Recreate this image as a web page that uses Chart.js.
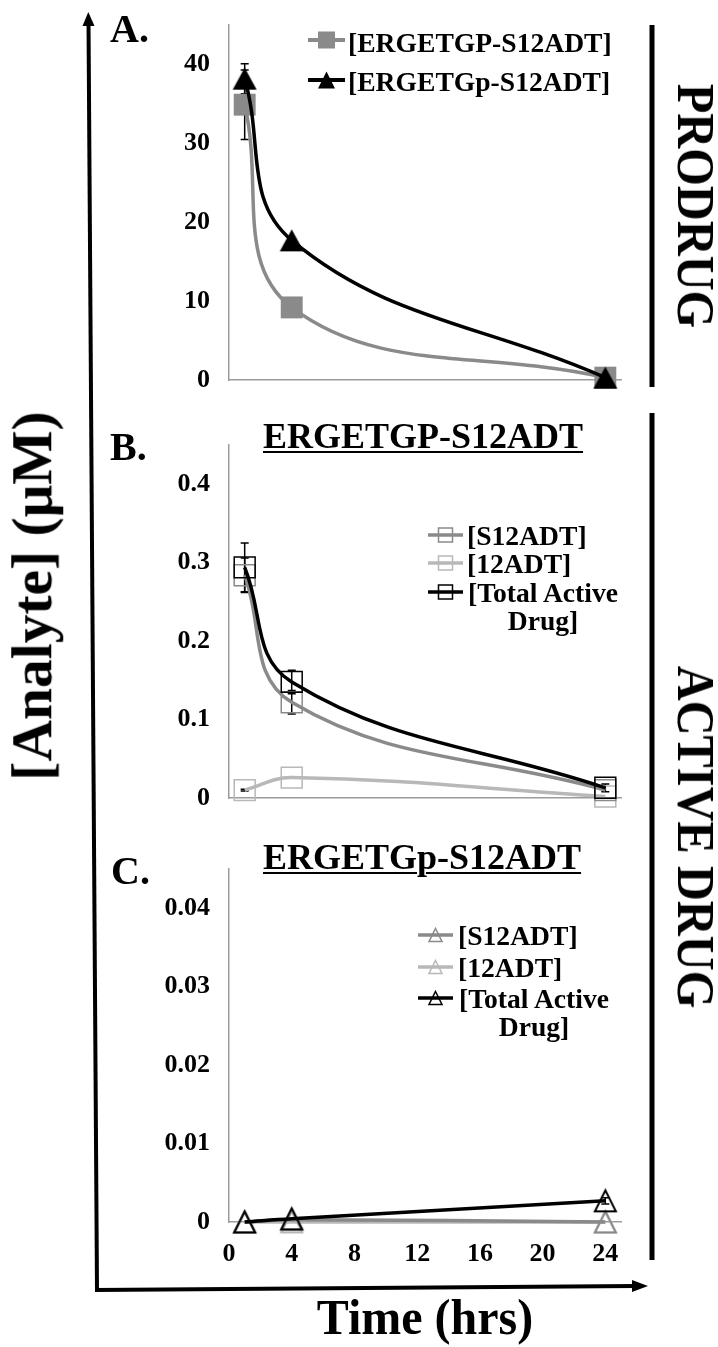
<!DOCTYPE html>
<html><head><meta charset="utf-8">
<script src="https://cdn.jsdelivr.net/npm/chart.js@4.4.1/dist/chart.umd.min.js"></script>
<style>
html,body{margin:0;padding:0;background:#fff;}
#wrap{position:relative;width:718px;height:1347px;overflow:hidden;font-family:'Liberation Serif','Times New Roman',serif;font-weight:bold;color:#000;}
canvas.c{position:absolute;left:0;}
.t{position:absolute;white-space:nowrap;line-height:1;}
.rot{position:absolute;white-space:nowrap;line-height:1;}
.lg{position:absolute;white-space:nowrap;font-size:27.6px;line-height:28px;}
svg.mk{position:absolute;overflow:visible;}
</style></head>
<body><div id="wrap">
<canvas id="bg" width="718" height="1347" style="position:absolute;left:0;top:0"></canvas>
<canvas id="cA" class="c" width="718" height="400" style="top:0"></canvas>
<canvas id="cB" class="c" width="718" height="420" style="top:400px"></canvas>
<canvas id="cC" class="c" width="718" height="470" style="top:820px"></canvas>

<div class="t" style="left:110px;top:9px;font-size:40px;">A.</div>
<div class="t" style="left:110px;top:427px;font-size:40px;">B.</div>
<div class="t" style="left:111px;top:851px;font-size:40px;">C.</div>

<div class="t" id="titleB" style="left:263px;top:418px;font-size:36px;text-decoration:underline;text-decoration-thickness:2px;text-underline-offset:3px;"></div>
<div class="t" id="titleC" style="left:263px;top:839px;font-size:36px;text-decoration:underline;text-decoration-thickness:2px;text-underline-offset:3px;"></div>

<div class="rot" id="yLabel" style="left:32px;top:596px;font-size:57.5px;transform:translate(-50%,-50%) rotate(-90deg);"></div>
<div class="rot" id="xLabel" style="left:425px;top:1317px;font-size:50px;transform:translate(-50%,-50%) scaleX(0.96);"></div>
<div class="rot" id="sideA" style="left:695px;top:206px;font-size:52px;transform:translate(-50%,-50%) rotate(90deg) scaleX(0.93);"></div>
<div class="rot" id="sideB" style="left:695px;top:837px;font-size:52px;transform:translate(-50%,-50%) rotate(90deg) scaleX(0.93);"></div>
</div>
<script>
// ---------- data ----------
const timeHrs = [1, 4, 24];
const xTickValues = [0, 4, 8, 12, 16, 20, 24];
const xTickLabels = ['0', '4', '8', '12', '16', '20', '24'];
const xMax = 25;

const yTicksA = [0, 10, 20, 30, 40];
const yLabelsA = ['0', '10', '20', '30', '40'];
const yMaxA = 45;
const yTicksB = [0, 0.1, 0.2, 0.3, 0.4];
const yLabelsB = ['0', '0.1', '0.2', '0.3', '0.4'];
const yMaxB = 0.45;
const yTicksC = [0, 0.01, 0.02, 0.03, 0.04];
const yLabelsC = ['0', '0.01', '0.02', '0.03', '0.04'];
const yMaxC = 0.045;

const prodrugNames = ['[ERGETGP-S12ADT]', '[ERGETGp-S12ADT]'];
const activeNames = ['[S12ADT]', '[12ADT]', '[Total Active Drug]'];
const panelTitles = ['ERGETGP-S12ADT', 'ERGETGp-S12ADT'];
const axisTitleY = '[Analyte] (\u03bcM)';
const axisTitleX = 'Time (hrs)';
const sideTitles = ['PRODRUG', 'ACTIVE DRUG'];

// Panel A
const prodrugGP = [34.9, 9.2, 0.3];
const prodrugGPErr = [4.4, 0, 0];
const prodrugGp = [38.2, 17.7, 0.3];
const prodrugGpErr = [1.9, 0, 0];
// Panel B (ERGETGP-S12ADT)
const bS12ADT = [0.284, 0.122, 0.010];
const bS12ADTErr = [0.022, 0.015, 0];
const b12ADT = [0.010, 0.026, 0.002];
const b12ADTErr = [0.001, 0, 0];
const bTotal = [0.294, 0.148, 0.013];
const bTotalErr = [0.031, 0.015, 0.005];
// Panel C (ERGETGp-S12ADT)
const cS12ADT = [0, 0.0003, 0];
const c12ADT = [0, 0, 0];
const cTotal = [0, 0.0004, 0.0027];
const cTotalErr = [0, 0, 0.0004];

// ---------- styles ----------
const GRAY = '#8a8a8a', LIGHT = '#b8b8b8', BLACK = '#000';
Chart.defaults.font.family = "'Liberation Serif','Times New Roman',serif";
Chart.defaults.font.weight = 'bold';
Chart.defaults.font.size = 26;
Chart.defaults.color = '#000';

function triCanvas(w, h, fill, stroke, lw) {
  const m = Math.ceil(lw) + 1;
  const c = document.createElement('canvas');
  c.width = w + 2 * m; c.height = h + 2 * m;
  const ctx = c.getContext('2d');
  ctx.beginPath();
  ctx.moveTo(m + w / 2, m);
  ctx.lineTo(m + w, m + h);
  ctx.lineTo(m, m + h);
  ctx.closePath();
  if (fill) { ctx.fillStyle = fill; ctx.fill(); }
  if (stroke) { ctx.strokeStyle = stroke; ctx.lineWidth = lw; ctx.lineJoin = 'miter'; ctx.stroke(); }
  return c;
}

const errPlugin = {
  id: 'errbars',
  beforeDatasetsDraw(chart) {
    const ctx = chart.ctx, xs = chart.scales.x, ys = chart.scales.y;
    ctx.save();
    chart.data.datasets.forEach(ds => {
      if (!ds.err) return;
      ds.data.forEach((p, i) => {
        const e = ds.err[i];
        if (!e) return;
        const x = xs.getPixelForValue(p.x);
        const y1 = ys.getPixelForValue(p.y + e), y2 = ys.getPixelForValue(p.y - e);
        ctx.strokeStyle = ds.errColor || '#000';
        ctx.lineWidth = 1.5;
        ctx.beginPath();
        ctx.moveTo(x, y1); ctx.lineTo(x, y2);
        ctx.moveTo(x - 4, y1); ctx.lineTo(x + 4, y1);
        ctx.moveTo(x - 4, y2); ctx.lineTo(x + 4, y2);
        ctx.stroke();
      });
    });
    ctx.restore();
  }
};

function pts(arr) { return timeHrs.map((t, i) => ({ x: t, y: arr[i] })); }

function options(yMax, yTicks, yLabels, showX, xH, topPad) {
  return {
    responsive: false, animation: false, events: [],
    layout: { padding: { top: topPad, right: 97, left: 0, bottom: 0 } },
    plugins: { legend: { display: false }, tooltip: { enabled: false }, title: { display: false } },
    scales: {
      x: {
        type: 'linear', min: 0, max: xMax,
        grid: { display: false, drawTicks: false },
        border: { display: true, color: '#9c9c9c', width: 1.5 },
        afterBuildTicks: s => { s.ticks = xTickValues.map(v => ({ value: v })); },
        ticks: { display: showX, padding: 17, autoSkip: false, maxRotation: 0, callback: (v, i) => xTickLabels[i] },
        afterFit: s => { s.height = xH; s.paddingLeft = 0; s.paddingRight = 0; s.paddingTop = 0; s.paddingBottom = 0; }
      },
      y: {
        type: 'linear', min: 0, max: yMax,
        grid: { display: false, drawTicks: false },
        border: { display: true, color: '#9c9c9c', width: 1.5 },
        afterBuildTicks: s => { s.ticks = yTicks.map(v => ({ value: v })); },
        ticks: { padding: 19, autoSkip: false, callback: (v, i) => yLabels[i] },
        afterFit: s => { s.width = 229; s.paddingTop = 0; s.paddingBottom = 0; s.paddingLeft = 0; s.paddingRight = 0; }
      }
    }
  };
}

function lineDs(label, arr, err, color, lw, style, radius, fill, stroke, bw, order) {
  return {
    label, data: pts(arr), err, errColor: '#000',
    borderColor: color, borderWidth: lw, tension: 0.4, fill: false,
    pointStyle: style, pointRadius: radius, pointBackgroundColor: fill,
    pointBorderColor: stroke, pointBorderWidth: bw, order, clip: false
  };
}

// Panel A
const triA = triCanvas(24, 22, BLACK, null, 0);
new Chart(document.getElementById('cA'), {
  type: 'line',
  data: { datasets: [
    lineDs(prodrugNames[1], prodrugGp, prodrugGpErr, BLACK, 3.5, triA, 10, BLACK, BLACK, 0, 0),
    lineDs(prodrugNames[0], prodrugGP, prodrugGPErr, GRAY, 3.5, 'rect', 15.5, GRAY, GRAY, 0, 1)
  ]},
  options: options(yMaxA, yTicksA, yLabelsA, false, 20, 25),
  plugins: [errPlugin]
});

// Panel B
new Chart(document.getElementById('cB'), {
  type: 'line',
  data: { datasets: [
    lineDs(activeNames[2], bTotal, bTotalErr, BLACK, 3.5, 'rect', 14.8, 'rgba(0,0,0,0)', BLACK, 1.5, 0),
    lineDs(activeNames[0], bS12ADT, bS12ADTErr, GRAY, 3.5, 'rect', 14.8, 'rgba(0,0,0,0)', GRAY, 1.5, 1),
    lineDs(activeNames[1], b12ADT, b12ADTErr, LIGHT, 3.5, 'rect', 14.8, 'rgba(0,0,0,0)', LIGHT, 1.5, 2)
  ]},
  options: options(yMaxB, yTicksB, yLabelsB, false, 22, 45),
  plugins: [errPlugin]
});

// Panel C
const triCk = triCanvas(21, 21, null, BLACK, 2);
const triCg = triCanvas(21, 21, null, GRAY, 2);
const triCl = triCanvas(21, 21, null, LIGHT, 2);
new Chart(document.getElementById('cC'), {
  type: 'line',
  data: { datasets: [
    lineDs(activeNames[2], cTotal, cTotalErr, BLACK, 3.5, triCk, 10, BLACK, BLACK, 0, 0),
    lineDs(activeNames[0], cS12ADT, null, GRAY, 3.5, triCg, 10, GRAY, GRAY, 0, 1),
    lineDs(activeNames[1], c12ADT, null, LIGHT, 3.5, triCl, 10, LIGHT, LIGHT, 0, 2)
  ]},
  options: options(yMaxC, yTicksC, yLabelsC, true, 68, 49),
  plugins: [errPlugin]
});

// ---------- texts ----------
document.getElementById('titleB').textContent = panelTitles[0];
document.getElementById('titleC').textContent = panelTitles[1];
document.getElementById('yLabel').textContent = axisTitleY;
document.getElementById('xLabel').textContent = axisTitleX;
document.getElementById('sideA').textContent = sideTitles[0];
document.getElementById('sideB').textContent = sideTitles[1];

// ---------- legends (HTML) ----------
const wrap = document.getElementById('wrap');
const NS = 'http://www.w3.org/2000/svg';
function marker(x1, x2, y, color, lw, shape, size, filled) {
  const svg = document.createElementNS(NS, 'svg');
  svg.setAttribute('class', 'mk');
  svg.setAttribute('width', x2 - x1); svg.setAttribute('height', 2);
  svg.style.left = x1 + 'px'; svg.style.top = y + 'px';
  const ln = document.createElementNS(NS, 'line');
  ln.setAttribute('x1', 0); ln.setAttribute('x2', x2 - x1); ln.setAttribute('y1', 0); ln.setAttribute('y2', 0);
  ln.setAttribute('stroke', color); ln.setAttribute('stroke-width', lw);
  svg.appendChild(ln);
  const cx = (x2 - x1) / 2;
  let sh;
  if (shape === 'rect') {
    sh = document.createElementNS(NS, 'rect');
    sh.setAttribute('x', cx - size / 2); sh.setAttribute('y', -size / 2);
    sh.setAttribute('width', size); sh.setAttribute('height', size);
  } else {
    sh = document.createElementNS(NS, 'polygon');
    sh.setAttribute('points', `${cx},${-size / 2} ${cx + size / 2},${size / 2} ${cx - size / 2},${size / 2}`);
  }
  if (filled) { sh.setAttribute('fill', color); }
  else { sh.setAttribute('fill', 'none'); sh.setAttribute('stroke', color); sh.setAttribute('stroke-width', 1.5); }
  svg.appendChild(sh);
  wrap.appendChild(svg);
}
function legText(txt, x, capY, width) {
  const d = document.createElement('div');
  d.className = 'lg';
  d.textContent = txt;
  d.style.left = x + 'px';
  d.style.top = (capY - 14) + 'px';
  if (width) { d.style.width = width + 'px'; d.style.whiteSpace = 'normal'; d.style.textAlign = 'center'; }
  wrap.appendChild(d);
}
// A legend
marker(308, 345, 40, GRAY, 4, 'rect', 17, true);
legText(prodrugNames[0], 348, 43);
marker(308, 345, 80, BLACK, 4, 'tri', 17, true);
legText(prodrugNames[1], 348, 82);
// B legend
const bCols = [GRAY, LIGHT, BLACK];
const bRows = [536, 564, 593];
activeNames.forEach((n, i) => {
  marker(428, 463, bRows[i] - 1, bCols[i], 3.5, 'rect', 14, false);
  legText(n, i === 2 ? 465 : 467, bRows[i], i === 2 ? 156 : null);
});
// C legend
const cRows = [936, 968, 999];
activeNames.forEach((n, i) => {
  marker(418, 453, cRows[i] - 1, bCols[i], 3.5, 'tri', 13, false);
  legText(n, i === 2 ? 456 : 458, cRows[i], i === 2 ? 156 : null);
});

// ---------- frame arrows & side lines ----------
const bg = document.getElementById('bg').getContext('2d');
bg.strokeStyle = '#000'; bg.fillStyle = '#000'; bg.lineWidth = 4; bg.lineCap = 'butt';
bg.beginPath(); bg.moveTo(97, 1290); bg.lineTo(88.5, 22); bg.stroke();
bg.beginPath(); bg.moveTo(88.3, 12); bg.lineTo(94.5, 26); bg.lineTo(82.5, 26); bg.closePath(); bg.fill();
bg.beginPath(); bg.moveTo(95, 1290); bg.lineTo(636, 1286); bg.stroke();
bg.beginPath(); bg.moveTo(648, 1286); bg.lineTo(632, 1280); bg.lineTo(632, 1292); bg.closePath(); bg.fill();
bg.lineWidth = 5;
bg.beginPath(); bg.moveTo(652, 25); bg.lineTo(652, 387); bg.stroke();
bg.beginPath(); bg.moveTo(652, 413); bg.lineTo(652, 1260); bg.stroke();
</script>
</body></html>
